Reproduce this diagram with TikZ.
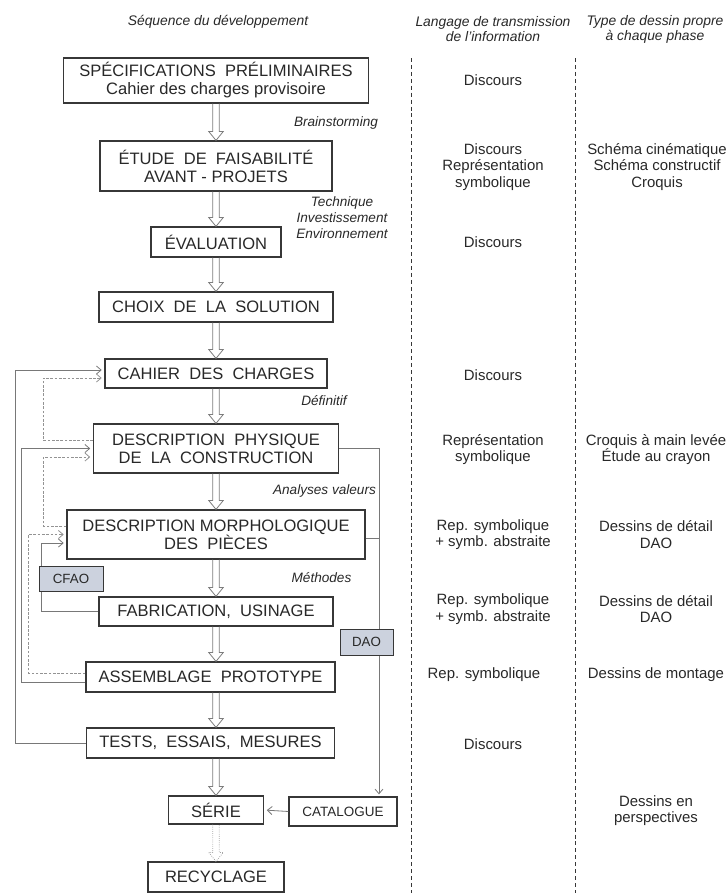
\documentclass[tikz,border=0pt]{standalone}
\usepackage{fontspec}
\setmainfont{Liberation Sans}
\usetikzlibrary{arrows.meta,calc}

\definecolor{boxline}{RGB}{55,55,55}
\definecolor{inkgray}{RGB}{40,40,40}
\definecolor{flowgray}{RGB}{125,125,125}
\definecolor{backgray}{RGB}{120,120,120}
\definecolor{toolfill}{RGB}{204,210,222}

\tikzset{
  phase/.style={draw=boxline, line width=0.9pt, fill=white, align=center, inner sep=0pt,
    text=inkgray, font=\fontsize{12.4}{13.5}\selectfont},
  tool/.style={draw=boxline, line width=0.7pt, fill=toolfill, inner sep=0pt,
    text=inkgray, font=\fontsize{10}{12}\selectfont},
  side/.style={align=center, inner sep=0pt, text=inkgray, font=\fontsize{11.2}{12.4}\selectfont},
  note/.style={align=center, inner sep=0pt, text=inkgray, font=\fontsize{10.2}{12}\selectfont\itshape},
  head/.style={align=center, inner sep=0pt, text=inkgray, font=\fontsize{10.4}{11.3}\selectfont\itshape},
  % hollow double-line arrow (offsets go down the page because of yscale=-1)
  flow/.style={draw=flowgray, line width=0.6pt, to path={
    let \p1=(\tikztostart), \p2=(\tikztotarget) in
    (\x1-2.5pt,\y1) -- (\x1-2.5pt,\y2-6.75pt) -- (\x1-5.5pt,\y2-6.75pt) -- (\x1,\y2)
    -- (\x1+5.5pt,\y2-6.75pt) -- (\x1+2.5pt,\y2-6.75pt) -- (\x1+2.5pt,\y1)}},
  flowdot/.style={flow, draw=flowgray!70, densely dotted},
  fback/.style={draw=backgray, line width=0.6pt, -{Straight Barb[length=3.5pt,width=6pt]}, shorten >=2pt},
  fbackdash/.style={fback, draw=backgray!80, dash pattern=on 2pt off 1.2pt},
  coldash/.style={draw=boxline, line width=0.7pt, dash pattern=on 3pt off 2.2pt}
}

\begin{document}
\begin{tikzpicture}[x=0.75pt,y=0.75pt,yscale=-1,xscale=1]
\useasboundingbox (0,0) rectangle (728,893);

%Text Node: column heads
\node[head] (hseq) at (218,22) {Séquence du développement};
\node[head] (hlang) at (493,29.5) {Langage de transmission\\de l'information};
\node[head] (htype) at (655,29.5) {Type de dessin propre\\à chaque phase};

%Straight Lines: column separators
\coordinate (sepa) at (411,58);
\coordinate (sepb) at (575,58);
\draw[coldash] (sepa) -- (sepa |- 0,893);
\draw[coldash] (sepb) -- (sepb |- 0,893);

%Shape: Rectangle: phases of the development
\node[phase, minimum width=228.75pt, minimum height=33.75pt] (spec) at (216,80.5) {SPÉCIFICATIONS\ \ PRÉLIMINAIRES\\Cahier des charges provisoire};
\node[phase, minimum width=174pt, minimum height=37.5pt] (etude) at (216,166) {ÉTUDE\ \ DE\ \ FAISABILITÉ\\AVANT - PROJETS};
\node[phase, minimum width=97.5pt, minimum height=22.5pt] (evalu) at (216,242) {ÉVALUATION};
\node[phase, minimum width=175.5pt, minimum height=22.5pt] (choix) at (216,307) {CHOIX\ \ DE\ \ LA\ \ SOLUTION};
\node[phase, minimum width=166.5pt, minimum height=21.75pt] (cahier) at (216,373.5) {CAHIER\ \ DES\ \ CHARGES};
\node[phase, minimum width=183.75pt, minimum height=36.75pt] (phys) at (216,448.5) {DESCRIPTION\ \ PHYSIQUE\\DE\ \ LA\ \ CONSTRUCTION};
\node[phase, minimum width=223.5pt, minimum height=36.75pt] (morpho) at (216,534.5) {DESCRIPTION MORPHOLOGIQUE\\DES\ \ PIÈCES};
\node[phase, minimum width=175.5pt, minimum height=21.75pt] (fabric) at (216,611.5) {FABRICATION,\ \ USINAGE};
\node[phase, minimum width=186.75pt, minimum height=22.5pt] (assem) at (210.5,677) {ASSEMBLAGE\ \ PROTOTYPE};
\node[phase, minimum width=186pt, minimum height=22.5pt] (tests) at (210.5,743) {TESTS,\ \ ESSAIS,\ \ MESURES};
\node[phase, minimum width=71.25pt, minimum height=21pt] (serie) at (216,810) {SÉRIE};
\node[phase, minimum width=102pt, minimum height=22.5pt] (recyc) at (216,877) {RECYCLAGE};
\node[phase, minimum width=81pt, minimum height=21.75pt, font=\fontsize{10.1}{12}\selectfont] (catal) at (343,811.5) {CATALOGUE};

%Straight Lines: feedback loops on the left
\draw[fback] (tests.west) -- ++(-71,0) |- ([yshift=-2.6pt]cahier.west);
\draw[fbackdash] ([yshift=-6.4pt]phys.west) -- ++(-50,0) |- ([yshift=3.4pt]cahier.west);
\draw[fback] ([yshift=3.75pt]assem.west) -- ++(-64,0) |- (phys.west);
\draw[fbackdash] ([yshift=-6.4pt]morpho.west) -- ++(-23,0) |- ([yshift=6.4pt]phys.west);
\draw[fbackdash] ([yshift=-3pt]assem.west) -- ++(-57,0) |- (morpho.west);
\draw[fback] (fabric.west) -- ++(-57,0) |- ([yshift=6.4pt]morpho.west);

%Straight Lines: DAO line on the right
\coordinate (daoline) at (379,797);
\draw[fback] (phys.east) -| (daoline);
\draw[draw=backgray, line width=0.6pt] ([yshift=3pt]morpho.east) -- ([yshift=3pt]morpho.east -| daoline);
\draw[fback] (catal.west) -- (serie.east);

%Shape: Rectangle: tools
\node[tool, minimum width=48pt, minimum height=18.75pt] (cfao) at (71,578.5) {CFAO};
\node[tool, minimum width=39.75pt, minimum height=19.5pt] (dao) at (366.5,642) {DAO};

%Straight Lines: main sequence
\draw[flow] (spec.south) to (etude.north);
\draw[flow] (etude.south) to (evalu.north);
\draw[flow] (evalu.south) to (choix.north);
\draw[flow] (choix.south) to (cahier.north);
\draw[flow] (cahier.south) to (phys.north);
\draw[flow] (phys.south) to (morpho.north);
\draw[flow] (morpho.south) to (fabric.north);
\draw[flow] (fabric.south) to (assem.north);
\draw[flow] (assem.south -| fabric.south) to (tests.north);
\draw[flow] (tests.south -| serie.north) to (serie.north);
\draw[flowdot] (serie.south) to (recyc.north);

%Text Node: notes along the sequence
\node[note] (nbrain) at (336,123) {Brainstorming};
\node[note] (ntech) at (342,218) {Technique\\Investissement\\Environnement};
\node[note] (ndef) at (324,401) {Définitif};
\node[note] (nanal) at (324.5,491) {Analyses valeurs};
\node[note] (nmeth) at (321.5,578) {Méthodes};

%Text Node: transmission language
\node[side] (lspec) at (493,80) {Discours};
\node[side] (letude) at (493,167) {Discours\\Représentation\\symbolique};
\node[side] (levalu) at (493,242) {Discours};
\node[side] (lcahier) at (493,375) {Discours};
\node[side] (lphys) at (493,449.5) {Représentation\\symbolique};
\node[side] (lmorpho) at (493,534.5) {Rep. symbolique\\+ symb. abstraite};
\node[side] (lfabric) at (493,609) {Rep. symbolique\\+ symb. abstraite};
\node[side] (lassem) at (484,675) {Rep. symbolique};
\node[side] (ltests) at (493,744) {Discours};

%Text Node: drawing types
\node[side] (tetude) at (657,167) {Schéma cinématique\\Schéma constructif\\Croquis};
\node[side] (tphys) at (656,449.5) {Croquis à main levée\\Étude au crayon};
\node[side] (tmorpho) at (656,534.5) {Dessins de détail\\DAO};
\node[side] (tfabric) at (656,609) {Dessins de détail\\DAO};
\node[side] (tassem) at (656,675) {Dessins de montage};
\node[side] (tserie) at (656,810.5) {Dessins en\\perspectives};

\end{tikzpicture}
\end{document}
